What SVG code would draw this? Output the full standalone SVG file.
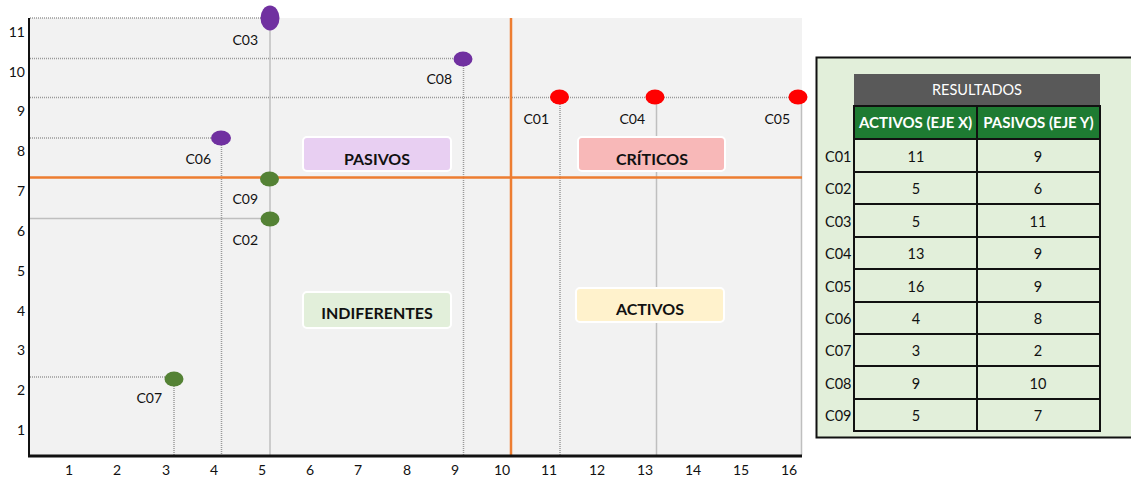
<svg xmlns="http://www.w3.org/2000/svg" width="1131" height="477" viewBox="0 0 1131 477">
<style>
text{font-family:Lato,"Liberation Sans",Arial,sans-serif;fill:#111}
.ytick{font-size:14px;text-anchor:end}
.xtick{font-size:14px;text-anchor:middle}
.plabel{font-size:14px;text-anchor:end}
.dot{stroke:#999999;stroke-width:1.5;stroke-dasharray:1 1;fill:none}
.sol{stroke:#BFBFBF;stroke-width:1.5;fill:none}
.orange{stroke:#ED7D31;stroke-width:2.5}
.purple{fill:#7030A0}
.green{fill:#548235}
.red{fill:#FF0000}
.cat{stroke:#FFFFFF;stroke-width:2}
.catt{font-size:16px;font-weight:bold;text-anchor:middle}
.cell{fill:#E2EFDA;stroke:#111;stroke-width:2}
.val{font-size:14.5px;text-anchor:middle}
.rl{font-size:14.5px}
.hd{font-size:15px;font-weight:bold;fill:#fff;text-anchor:middle}
</style>
<rect x="0" y="0" width="1131" height="477" fill="#FFFFFF"/>
<g id="plot-area">
<rect x="29" y="18" width="773" height="438" fill="#F2F2F2"/>
</g>
<g id="connectors">
<line class="dot" x1="30" y1="18" x2="262" y2="18"/>
<line class="dot" x1="30" y1="58.5" x2="455" y2="58.5"/>
<line class="dot" x1="30" y1="97.5" x2="800" y2="97.5"/>
<line class="dot" x1="30" y1="138" x2="212" y2="138"/>
<line class="sol" x1="30" y1="218.5" x2="262" y2="218.5"/>
<line class="dot" x1="30" y1="377" x2="166" y2="377"/>
<line class="sol" x1="270" y1="30" x2="270" y2="455"/>
<line class="dot" x1="221.5" y1="145" x2="221.5" y2="455"/>
<line class="dot" x1="174" y1="386" x2="174" y2="455"/>
<line class="dot" x1="463.5" y1="66" x2="463.5" y2="455"/>
<line class="dot" x1="560" y1="104" x2="560" y2="455"/>
<line class="sol" x1="656.5" y1="104" x2="656.5" y2="455"/>
<line class="sol" x1="801.5" y1="104" x2="801.5" y2="455"/>
<line class="orange" x1="30" y1="177.5" x2="802" y2="177.5"/>
<line class="orange" x1="511" y1="18" x2="511" y2="455"/>
</g>
<g id="axes">
<line x1="29" y1="18" x2="29" y2="457" stroke="#111" stroke-width="2"/>
<line x1="28" y1="456" x2="802" y2="456" stroke="#111" stroke-width="3"/>
<text class="ytick" x="25" y="37">11</text>
<text class="ytick" x="25" y="77">10</text>
<text class="ytick" x="25" y="116">9</text>
<text class="ytick" x="25" y="156">8</text>
<text class="ytick" x="25" y="196">7</text>
<text class="ytick" x="25" y="236">6</text>
<text class="ytick" x="25" y="276">5</text>
<text class="ytick" x="25" y="316">4</text>
<text class="ytick" x="25" y="355">3</text>
<text class="ytick" x="25" y="395">2</text>
<text class="ytick" x="25" y="435">1</text>
<text class="xtick" x="69" y="475">1</text>
<text class="xtick" x="117" y="475">2</text>
<text class="xtick" x="166" y="475">3</text>
<text class="xtick" x="214" y="475">4</text>
<text class="xtick" x="262" y="475">5</text>
<text class="xtick" x="310" y="475">6</text>
<text class="xtick" x="358" y="475">7</text>
<text class="xtick" x="407" y="475">8</text>
<text class="xtick" x="455" y="475">9</text>
<text class="xtick" x="502" y="475">10</text>
<text class="xtick" x="549" y="475">11</text>
<text class="xtick" x="597" y="475">12</text>
<text class="xtick" x="645" y="475">13</text>
<text class="xtick" x="693" y="475">14</text>
<text class="xtick" x="741" y="475">15</text>
<text class="xtick" x="789" y="475">16</text>
</g>
<g id="cat-pasivos">
<rect class="cat" x="303" y="137" width="148" height="34" rx="4" fill="#E8CFF2"/>
<text class="catt" x="377" y="165">PASIVOS</text>
</g>
<g id="cat-criticos">
<rect class="cat" x="578" y="137" width="147" height="34" rx="4" fill="#F8B8B8"/>
<text class="catt" x="652" y="165">CRÍTICOS</text>
</g>
<g id="cat-indiferentes">
<rect class="cat" x="303" y="292" width="148" height="36" rx="4" fill="#E2EFDA"/>
<text class="catt" x="377" y="319">INDIFERENTES</text>
</g>
<g id="cat-activos">
<rect class="cat" x="576" y="288" width="148" height="34" rx="4" fill="#FFF2CC"/>
<text class="catt" x="650" y="315">ACTIVOS</text>
</g>
<g id="C03"><ellipse class="purple" cx="270" cy="18" rx="9.5" ry="12.5"/><text class="plabel" x="258" y="45">C03</text></g>
<g id="C08"><ellipse class="purple" cx="463" cy="59" rx="9.5" ry="7.5"/><text class="plabel" x="452" y="84">C08</text></g>
<g id="C01"><ellipse class="red" cx="559.5" cy="97" rx="9.5" ry="7.5"/><text class="plabel" x="549" y="124">C01</text></g>
<g id="C04"><ellipse class="red" cx="655" cy="97" rx="9.5" ry="7.5"/><text class="plabel" x="645" y="124">C04</text></g>
<g id="C05"><ellipse class="red" cx="798" cy="97" rx="9.5" ry="7.5"/><text class="plabel" x="790" y="124">C05</text></g>
<g id="C06"><ellipse class="purple" cx="221" cy="138" rx="10" ry="7.5"/><text class="plabel" x="211" y="164">C06</text></g>
<g id="C09"><ellipse class="green" cx="269.5" cy="179" rx="9.5" ry="7.5"/><text class="plabel" x="258" y="204">C09</text></g>
<g id="C02"><ellipse class="green" cx="270" cy="219" rx="9.5" ry="7.5"/><text class="plabel" x="258" y="245">C02</text></g>
<g id="C07"><ellipse class="green" cx="174" cy="379" rx="9.5" ry="7.5"/><text class="plabel" x="162" y="403">C07</text></g>
<g id="tabla-resultados">
<rect x="816.5" y="57.5" width="320" height="380" fill="#E2EFDA" stroke="#111" stroke-width="2"/>
<rect x="854" y="74" width="246" height="32" fill="#595959"/>
<text x="977" y="95" font-size="14.5px" text-anchor="middle" style="fill:#fff">RESULTADOS</text>
<rect x="854" y="106" width="123" height="33" fill="#1E7B32" stroke="#111" stroke-width="2"/>
<rect x="977" y="106" width="123" height="33" fill="#1E7B32" stroke="#111" stroke-width="2"/>
<text class="hd" x="915.5" y="128">ACTIVOS (EJE X)</text>
<text class="hd" x="1038.5" y="128">PASIVOS (EJE Y)</text>
<g id="rows">
<rect class="cell" x="854" y="139" width="123" height="33"/><rect class="cell" x="977" y="139" width="123" height="33"/>
<rect class="cell" x="854" y="172" width="123" height="32"/><rect class="cell" x="977" y="172" width="123" height="32"/>
<rect class="cell" x="854" y="204" width="123" height="33"/><rect class="cell" x="977" y="204" width="123" height="33"/>
<rect class="cell" x="854" y="237" width="123" height="32"/><rect class="cell" x="977" y="237" width="123" height="32"/>
<rect class="cell" x="854" y="269" width="123" height="33"/><rect class="cell" x="977" y="269" width="123" height="33"/>
<rect class="cell" x="854" y="302" width="123" height="32"/><rect class="cell" x="977" y="302" width="123" height="32"/>
<rect class="cell" x="854" y="334" width="123" height="32"/><rect class="cell" x="977" y="334" width="123" height="32"/>
<rect class="cell" x="854" y="366" width="123" height="33"/><rect class="cell" x="977" y="366" width="123" height="33"/>
<rect class="cell" x="854" y="399" width="123" height="32"/><rect class="cell" x="977" y="399" width="123" height="32"/>
</g>
<text class="rl" x="825" y="162">C01</text><text class="val" x="916" y="162">11</text><text class="val" x="1038" y="162">9</text>
<text class="rl" x="825" y="194">C02</text><text class="val" x="916" y="194">5</text><text class="val" x="1038" y="194">6</text>
<text class="rl" x="825" y="227">C03</text><text class="val" x="916" y="227">5</text><text class="val" x="1038" y="227">11</text>
<text class="rl" x="825" y="259">C04</text><text class="val" x="916" y="259">13</text><text class="val" x="1038" y="259">9</text>
<text class="rl" x="825" y="292">C05</text><text class="val" x="916" y="292">16</text><text class="val" x="1038" y="292">9</text>
<text class="rl" x="825" y="324">C06</text><text class="val" x="916" y="324">4</text><text class="val" x="1038" y="324">8</text>
<text class="rl" x="825" y="356">C07</text><text class="val" x="916" y="356">3</text><text class="val" x="1038" y="356">2</text>
<text class="rl" x="825" y="389">C08</text><text class="val" x="916" y="389">9</text><text class="val" x="1038" y="389">10</text>
<text class="rl" x="825" y="421">C09</text><text class="val" x="916" y="421">5</text><text class="val" x="1038" y="421">7</text>
</g>
</svg>
